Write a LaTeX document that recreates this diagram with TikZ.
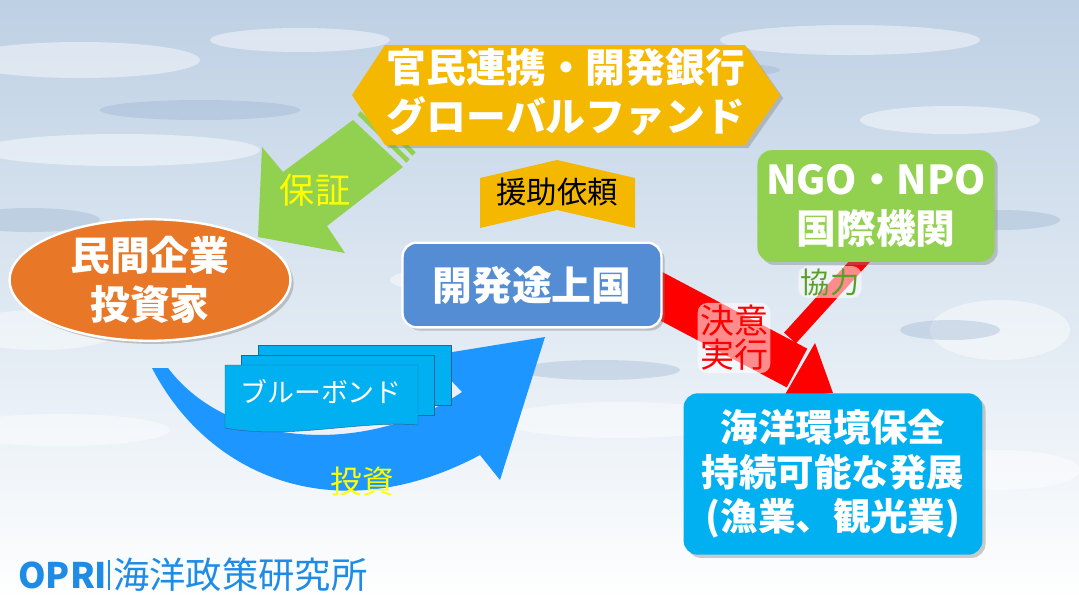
\documentclass[tikz,border=0pt]{standalone}
\usepackage{fontspec}
\setmainfont{Noto Sans CJK JP}
\usetikzlibrary{shapes.geometric,shadows}
\definecolor{gold}{RGB}{245,184,0}
\definecolor{lgreen}{RGB}{146,208,80}
\definecolor{orng}{RGB}{232,120,40}
\definecolor{dblue}{RGB}{84,141,212}
\definecolor{cyanb}{RGB}{0,176,240}
\definecolor{arrowblue}{RGB}{30,150,255}
\definecolor{logob}{RGB}{30,140,230}
\definecolor{yel}{RGB}{255,255,0}
\definecolor{bgtop}{RGB}{190,208,228}
\definecolor{bgmid}{RGB}{222,232,242}
\definecolor{cloudd}{RGB}{150,175,205}
\definecolor{docedge}{RGB}{40,100,150}
\definecolor{kgreen}{RGB}{90,160,40}
\tikzset{
 wt/.style={text=white,font=\bfseries\fontsize{34}{42}\selectfont,align=center},
 box/.style={draw=white,line width=2pt,rounded corners=12pt,drop shadow={opacity=0.4}},
 lab/.style={font=\fontsize{#1}{#1}\selectfont},
 glow/.style={fill=white,fill opacity=0.55,text opacity=1,rounded corners=8pt,inner sep=2pt},
}
\begin{document}
\begin{tikzpicture}[x=0.03cm,y=-0.03cm]
\useasboundingbox (0,0) rectangle (1079,604);
% background
\shade[top color=bgtop,bottom color=white,middle color=bgmid] (0,0) rectangle (1079,604);
\foreach \x/\y/\a/\b in {80/60/120/18, 300/40/90/12, 850/40/130/15, 560/120/100/14, 120/150/140/16, 950/120/90/14, 40/330/80/20, 620/420/120/18, 1000/330/70/30, 60/430/110/16, 1000/470/80/20, 450/280/60/12}
  \fill[white,opacity=0.45] (\x,\y) ellipse ({\a} and {\b});
\foreach \x/\y/\a/\b in {200/110/100/10, 700/70/80/8, 1000/220/60/10, 30/220/70/12, 600/370/80/10, 950/330/50/10}
  \fill[cloudd,opacity=0.35] (\x,\y) ellipse ({\a} and {\b});
% green arrow
\fill[lgreen] (258,237) -- (262,147) -- (283,172) -- (353,120) -- (403,167) -- (327,226) -- (345,253) -- cycle;
\draw[lgreen,line width=4pt] (359,113) -- (408,161);
\draw[lgreen,line width=4pt] (366,106) -- (414,154);
% hexagon
\fill[gold,drop shadow={opacity=0.4}] (352,95) -- (385,45) -- (745,45) -- (780,95) -- (745,145) -- (385,145) -- cycle;
\node[wt] (hex) at (566,92) {官民連携・開発銀行\\グローバルファンド};
\node[lab=30,text=yel] (hosho) at (315,190) {保証};
% orange ellipse
\node[ellipse,fill=orng,draw=white,line width=2pt,minimum width=282pt*0.85,minimum height=122pt*0.85,drop shadow={opacity=0.4}] (ell) at (150,280) {};
\node[wt,align=center] at (ell) {民間企業\\投資家};
% aid request chevron
\fill[gold] (480,178) -- (557,160) -- (635,178) -- (635,228) -- (557,210) -- (480,228) -- cycle;
\node[lab=26,text=black] (aid) at (557,192) {援助依頼};
% blue curved arrow
\fill[arrowblue] (152,368) .. controls (210,480) and (340,530) .. (480,455) -- (500,480) -- (545,337) -- (428,356) -- (462,392) .. controls (370,455) and (230,450) .. (168,368) -- cycle;
% blue bond docs
\foreach \dx/\dy in {33/-20,16/-10}
  \draw[fill=cyanb,draw=docedge] (225+\dx,365+\dy) rectangle (418+\dx,425+\dy);
\draw[fill=cyanb,draw=docedge] (225,365) -- (418,365) -- (418,425) .. controls (360,420) and (290,440) .. (225,428) -- cycle;
\node[lab=23,text=white] (bond) at (321,392) {ブルーボンド};
\node[lab=27,text=yel] (toshi) at (362,482) {投資};
% red arrows (drawn under boxes)
\draw[red,line width=0.85*44pt] (640,285) -- (797,368);
\draw[red,line width=0.85*16pt] (870,250) -- (790,338);
\fill[red] (833,393) -- (815,343) -- (783,398) -- cycle;
% developing country
\node[box,fill=dblue,minimum width=260pt*0.85,minimum height=85pt*0.85,wt] (dev) at (532,285) {開発途上国};
% NGO
\node[box,fill=lgreen,draw=none,minimum width=238pt*0.85,minimum height=112pt*0.85,wt] (ngo) at (876,206) {NGO・NPO\\国際機関};
\node[lab=29,text=red,align=center,glow] (ketsui) at (734,338) {決意\\実行};
\node[lab=25,text=kgreen,glow] (kyoryoku) at (830,282) {協力};
% result box
\node[box,fill=cyanb,draw=none,minimum width=300pt*0.85,minimum height=162pt*0.85,text=white,font=\bfseries\fontsize{32}{38}\selectfont,align=center] (res) at (833,474) {海洋環境保全\\持続可能な発展\\(漁業、観光業)};
% logo
\node[anchor=west,text=logob,font=\bfseries\fontsize{30}{30}\selectfont,inner sep=0] (opri) at (18,575) {OPRI};
\node[anchor=west,text=logob,lab=31,inner sep=0] (oprij) at (113,575) {海洋政策研究所};
\draw[logob,line width=2pt] (109,560) -- (109,590);
\end{tikzpicture}
\end{document}
